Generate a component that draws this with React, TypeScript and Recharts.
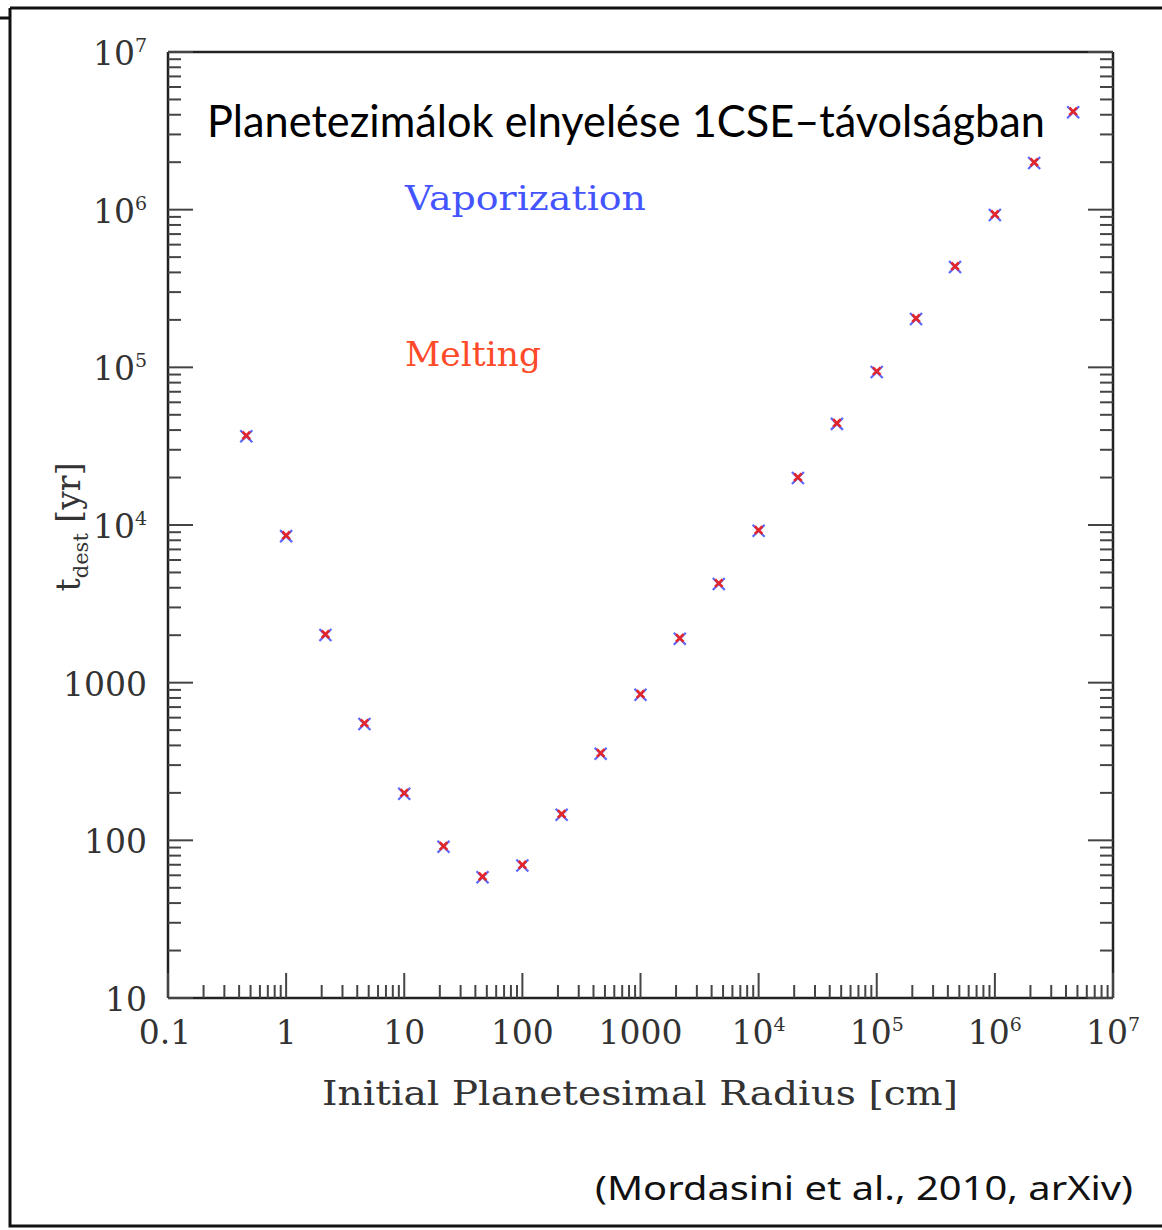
import React from 'react';
import { ScatterChart, Scatter, XAxis, YAxis } from 'recharts';

// initial planetesimal radius [cm]
const radius = [
  0.46, 1, 2.15, 4.6, 10, 21.5, 46, 100, 215, 460, 1000, 2150, 4600, 1e4,
  21500, 46000, 1e5, 215000, 460000, 1e6, 2.15e6, 4.6e6,
];
// destruction time [yr]
const vaporizationTime = [
  37000, 8600, 2030, 554, 200, 92, 59, 70, 147, 358, 847, 1920, 4280, 9290,
  20100, 44300, 94600, 205000, 438000, 935000, 2.0e6, 4.2e6,
];
const meltingTime = [
  37000, 8600, 2030, 554, 200, 92, 59, 70, 147, 358, 847, 1920, 4280, 9290,
  20100, 44300, 94600, 205000, 438000, 935000, 2.0e6, 4.2e6,
];

const xMajorTicks = [0.1, 1, 10, 100, 1000, 1e4, 1e5, 1e6, 1e7];
const xTickLabels = ['0.1', '1', '10', '100', '1000', '10^4', '10^5', '10^6', '10^7'];
const yMajorTicks = [10, 100, 1000, 1e4, 1e5, 1e6, 1e7];
const yTickLabels = ['10', '100', '1000', '10^4', '10^5', '10^6', '10^7'];

const withMinor = (majors: number[]) => {
  const out: number[] = [];
  majors.forEach((m, i) => {
    out.push(m);
    if (i < majors.length - 1) for (let k = 2; k <= 9; k++) out.push(m * k);
  });
  return out;
};
const xTicks = withMinor(xMajorTicks);
const yTicks = withMinor(yMajorTicks);

const vapData = radius.map((r, i) => ({ r, t: vaporizationTime[i] }));
const meltData = radius.map((r, i) => ({ r, t: meltingTime[i] }));

const TICK_FONT = '"DejaVu Serif", serif';
const TICK_COLOR = '#444';
const MAJOR = 25;
const MINOR = 13;

const TickText = ({ x, y, label, anchor }: any) => {
  const [base, exp] = label.split('^');
  return (
    <text x={x} y={y} textAnchor={anchor} fontFamily={TICK_FONT} fontSize={33} fill="#333">
      {base}
      {exp && (
        <tspan fontSize={19} dy={-13}>
          {exp}
        </tspan>
      )}
    </text>
  );
};

const BottomTick = (props: any) => {
  const { x, y, payload } = props;
  const i = xMajorTicks.indexOf(payload.value);
  return (
    <g>
      <line x1={x} y1={y} x2={x} y2={y - (i >= 0 ? MAJOR : MINOR)} stroke={TICK_COLOR} strokeWidth={2} />
      {i >= 0 && <TickText x={i === 0 ? x - 3 : x} y={y + 46} label={xTickLabels[i]} anchor="middle" />}
    </g>
  );
};

const TopTick = (props: any) => {
  const { x, y, payload } = props;
  const major = xMajorTicks.indexOf(payload.value) >= 0;
  return <line x1={x} y1={y} x2={x} y2={y + (major ? MAJOR : MINOR)} stroke={TICK_COLOR} strokeWidth={2} />;
};

const LeftTick = (props: any) => {
  const { x, y, payload } = props;
  const i = yMajorTicks.indexOf(payload.value);
  return (
    <g>
      <line x1={x} y1={y} x2={x + (i >= 0 ? MAJOR : MINOR)} y2={y} stroke={TICK_COLOR} strokeWidth={2} />
      {i >= 0 && <TickText x={x - 21} y={y + 13} label={yTickLabels[i]} anchor="end" />}
    </g>
  );
};

const RightTick = (props: any) => {
  const { x, y, payload } = props;
  const major = yMajorTicks.indexOf(payload.value) >= 0;
  return <line x1={x} y1={y} x2={x - (major ? MAJOR : MINOR)} y2={y} stroke={TICK_COLOR} strokeWidth={2} />;
};

const cross = (size: number, color: string, width: number, dy = 0) => (p: any) => {
  const { cx, cy } = p;
  const y = cy + dy;
  return (
    <g>
      <line x1={cx - size} y1={y - size} x2={cx + size} y2={y + size} stroke={color} strokeWidth={width} />
      <line x1={cx - size} y1={y + size} x2={cx + size} y2={y - size} stroke={color} strokeWidth={width} />
    </g>
  );
};

const axisLine = { stroke: '#222', strokeWidth: 2.5 };

export default function App() {
  return (
    <div style={{ position: 'absolute', left: 0, top: 0, width: 1162, height: 1230, background: '#fff' }}>
      <ScatterChart width={1162} height={1230} margin={{ top: 42, right: 39, bottom: 112, left: 8 }}>
        <XAxis
          xAxisId="bottom"
          dataKey="r"
          type="number"
          scale="log"
          domain={[0.1, 1e7]}
          allowDataOverflow
          ticks={xTicks}
          interval={0}
          height={120}
          tickSize={0}
          tickMargin={0}
          tickLine={false}
          axisLine={axisLine}
          tick={<BottomTick />}
        />
        <XAxis
          xAxisId="top"
          orientation="top"
          type="number"
          scale="log"
          domain={[0.1, 1e7]}
          allowDataOverflow
          ticks={xTicks}
          interval={0}
          height={10}
          tickSize={0}
          tickMargin={0}
          tickLine={false}
          axisLine={axisLine}
          tick={<TopTick />}
        />
        <YAxis
          yAxisId="left"
          dataKey="t"
          type="number"
          scale="log"
          domain={[10, 1e7]}
          allowDataOverflow
          ticks={yTicks}
          interval={0}
          width={160}
          tickSize={0}
          tickMargin={0}
          tickLine={false}
          axisLine={axisLine}
          tick={<LeftTick />}
        />
        <YAxis
          yAxisId="right"
          orientation="right"
          type="number"
          scale="log"
          domain={[10, 1e7]}
          allowDataOverflow
          ticks={yTicks}
          interval={0}
          width={10}
          tickSize={0}
          tickMargin={0}
          tickLine={false}
          axisLine={axisLine}
          tick={<RightTick />}
        />
        <Scatter
          name="Vaporization"
          data={vapData}
          xAxisId="bottom"
          yAxisId="left"
          isAnimationActive={false}
          shape={cross(6, '#5a66ff', 2.2, 0.8)}
        />
        <Scatter
          name="Melting"
          data={meltData}
          xAxisId="bottom"
          yAxisId="left"
          isAnimationActive={false}
          shape={cross(3.8, '#e3262c', 2.6)}
        />
      </ScatterChart>
      <svg
        width={1162}
        height={1230}
        style={{ position: 'absolute', left: 0, top: 0, pointerEvents: 'none' }}
      >
        <path d="M0 18 H10 M10 8 V1226 H1162 M10 8 H1162" fill="none" stroke="#111" strokeWidth={3} />
        <text x={207} y={137} fontFamily="Lato, sans-serif" fontSize={44} fill="#000" textLength={838} lengthAdjust="spacingAndGlyphs">
          Planetezimálok elnyelése 1CSE–távolságban
        </text>
        <text x={405} y={210} fontFamily={TICK_FONT} fontSize={33} fill="#4455ff" textLength={241} lengthAdjust="spacingAndGlyphs">
          Vaporization
        </text>
        <text x={405} y={366} fontFamily={TICK_FONT} fontSize={33} fill="#ff4a2a" textLength={136} lengthAdjust="spacingAndGlyphs">
          Melting
        </text>
        <text x={322} y={1105} fontFamily={TICK_FONT} fontSize={33} fill="#333" textLength={636} lengthAdjust="spacingAndGlyphs">
          Initial Planetesimal Radius [cm]
        </text>
        <text transform="translate(80 527) rotate(-90)" textAnchor="middle" fontFamily={TICK_FONT} fontSize={33} fill="#333">
          t
          <tspan fontSize={21} dy={8}>dest</tspan>
          <tspan dy={-8}> [yr]</tspan>
        </text>
        <text x={595} y={1200} fontFamily='"Noto Sans", sans-serif' fontSize={32} fill="#111" textLength={538} lengthAdjust="spacingAndGlyphs">
          (Mordasini et al., 2010, arXiv)
        </text>
      </svg>
    </div>
  );
}
